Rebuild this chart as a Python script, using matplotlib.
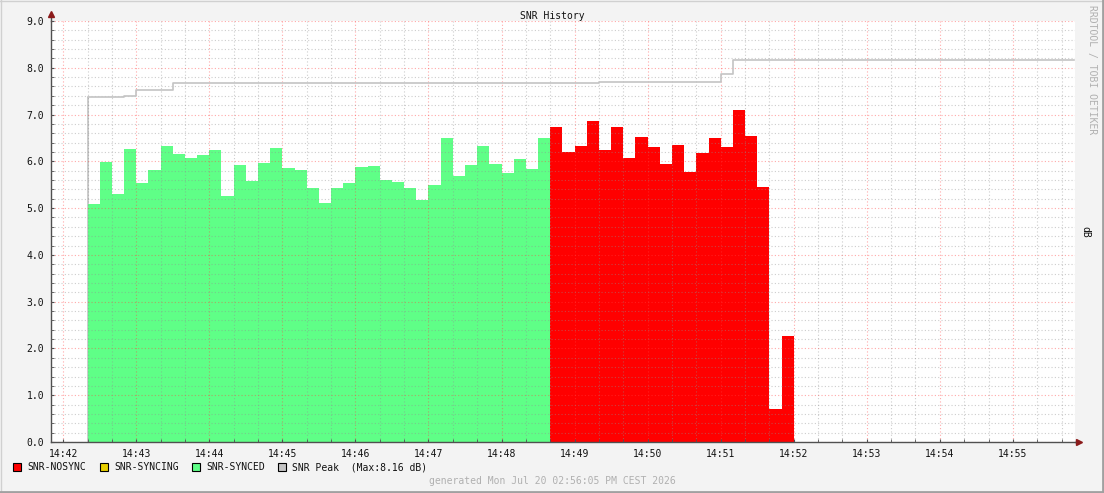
import matplotlib
matplotlib.use("Agg")
import matplotlib.pyplot as plt
import matplotlib.dates as mdates
from matplotlib.patches import Rectangle
from matplotlib.lines import Line2D
from datetime import datetime, timedelta

# SNR samples, 10 s steps
synced_start = "14:42:20"
synced_snr = [5.09, 5.99, 5.30, 6.26, 5.54, 5.81, 6.33, 6.16, 6.07, 6.13,
              6.24, 5.26, 5.92, 5.58, 5.96, 6.28, 5.86, 5.81, 5.43, 5.11,
              5.43, 5.54, 5.88, 5.90, 5.60, 5.56, 5.43, 5.17, 5.49, 6.50,
              5.69, 5.92, 6.33, 5.94, 5.75, 6.05, 5.84, 6.50]
nosync_start = "14:48:40"
nosync_snr = [6.73, 6.20, 6.33, 6.86, 6.24, 6.73, 6.07, 6.52, 6.31, 5.94,
              6.35, 5.77, 6.18, 6.50, 6.31, 7.10, 6.54, 5.45, 0.71, 2.27]
peak_times = ["14:42:20", "14:42:50", "14:43:00", "14:43:30", "14:49:20",
              "14:51:00", "14:51:10", "14:55:50"]
peak_snr = [7.38, 7.40, 7.52, 7.67, 7.69, 7.86, 8.16, 8.16]
x_start, x_end = "14:41:50", "14:55:51"

step = timedelta(seconds=10)
day = "2026-07-20 "


def t(s):
    return datetime.strptime(day + s, "%Y-%m-%d %H:%M:%S")


def series_times(start, n):
    return [t(start) + i * step for i in range(n)]


W, H = 1104, 493
fig = plt.figure(figsize=(W / 100, H / 100), dpi=100)
fig.patch.set_facecolor("#f3f3f3")
mono = "DejaVu Sans Mono"

ax = fig.add_axes([51 / W, 1 - 442 / H, (1075 - 51) / W, (442 - 21) / H])
ax.set_facecolor("white")

bw = 10 / 86400
ax.bar(series_times(synced_start, len(synced_snr)), synced_snr, width=bw,
       align="edge", color="#5fff87", linewidth=0, zorder=2)
ax.bar(series_times(nosync_start, len(nosync_snr)), nosync_snr, width=bw,
       align="edge", color="#ff0000", linewidth=0, zorder=2)
pt = [t(s) for s in peak_times]
ax.vlines(pt[0], 0, peak_snr[0], color="#c4c4c4", lw=1.2, zorder=1)
ax.plot(pt, peak_snr, drawstyle="steps-post", color="#c4c4c4", lw=1.2, zorder=3)

ax.set_xlim(t(x_start), t(x_end))
ax.set_ylim(0, 9)
ax.xaxis.set_major_locator(mdates.MinuteLocator())
ax.xaxis.set_minor_locator(mdates.SecondLocator(bysecond=[0, 20, 40]))
ax.xaxis.set_major_formatter(mdates.DateFormatter("%H:%M"))
ax.set_yticks([i for i in range(10)])
ax.set_yticks([i * 0.2 for i in range(46)], minor=True)
ax.set_yticklabels([f"{i:.1f}" for i in range(10)])

ax.set_axisbelow(False)
ax.grid(which="minor", color="#909090", alpha=0.45, lw=0.8, ls=(0, (1, 2)), zorder=4)
ax.grid(which="major", color="#ff4040", alpha=0.45, lw=0.8, ls=(0, (1, 2)), zorder=4)

for s in ["top", "right"]:
    ax.spines[s].set_visible(False)
for s in ["left", "bottom"]:
    ax.spines[s].set_color("#505050")
    ax.spines[s].set_linewidth(1)
ax.tick_params(which="both", length=2, color="#505050", direction="in",
               labelsize=7, pad=5)
for lab in ax.get_xticklabels() + ax.get_yticklabels():
    lab.set_family(mono)
    lab.set_color("#111111")

# axis arrows
ax.add_line(Line2D([0, 0], [1, 1.014], transform=ax.transAxes, color="#505050",
                   lw=1, clip_on=False))
ax.plot([0], [1.016], marker="^", ms=4, color="#8b1a1a", transform=ax.transAxes,
        clip_on=False)
ax.add_line(Line2D([1, 1.004], [0, 0], transform=ax.transAxes, color="#505050",
                   lw=1, clip_on=False))
ax.plot([1.004], [0], marker=">", ms=4, color="#8b1a1a", transform=ax.transAxes,
        clip_on=False)

fig.text(552 / W, 1 - 16 / H, "SNR History", ha="center", va="center",
         family=mono, fontsize=7, color="#111111")
fig.text(1092 / W, 1 - 5 / H, "RRDTOOL / TOBI OETIKER", ha="center", va="top",
         rotation=270, family=mono, fontsize=7, color="#b0b0b0")
fig.text(1085 / W, 1 - 232 / H, "dB", ha="center", va="center",
         rotation=270, family=mono, fontsize=7, color="#111111")

# legend row
legend_items = [("SNR-NOSYNC", "#ff0000", 13),
                ("SNR-SYNCING", "#e8d000", 100),
                ("SNR-SYNCED", "#5fff87", 192),
                ("SNR Peak  (Max:8.16 dB)", "#c4c4c4", 278)]
for name, col, x in legend_items:
    fig.patches.append(Rectangle((x / W, 1 - 471 / H), 8 / W, 8 / H,
                                 transform=fig.transFigure, facecolor=col,
                                 edgecolor="black", lw=0.8))
    fig.text((x + 14) / W, 1 - 467 / H, name, ha="left", va="center",
             family=mono, fontsize=7, color="#111111")

fig.text(552 / W, 1 - 481 / H, "generated Mon Jul 20 02:56:05 PM CEST 2026",
         ha="center", va="center", family=mono, fontsize=7, color="#b0b0b0")

# frame shading
fig.add_artist(Line2D([0, 1], [1 - 0.5 / H, 1 - 0.5 / H], transform=fig.transFigure,
                      color="#d0d0d0", lw=1))
fig.add_artist(Line2D([0.5 / W, 0.5 / W], [0, 1], transform=fig.transFigure,
                      color="#d0d0d0", lw=1))
fig.add_artist(Line2D([0, 1], [1 / H, 1 / H], transform=fig.transFigure,
                      color="#a0a0a0", lw=2))
fig.add_artist(Line2D([1 - 1 / W, 1 - 1 / W], [0, 1], transform=fig.transFigure,
                      color="#a0a0a0", lw=2))

fig.savefig("out.png", dpi=100, facecolor=fig.get_facecolor())
